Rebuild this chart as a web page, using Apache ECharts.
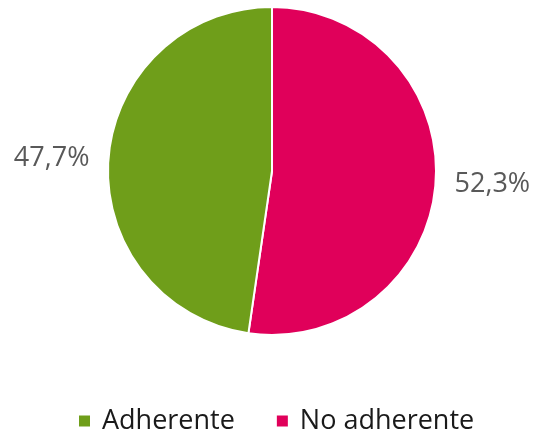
<!DOCTYPE html>
<html><head><meta charset="utf-8">
<script src="https://cdn.jsdelivr.net/npm/echarts@6/dist/echarts.min.js"></script>
<style>html,body{margin:0;padding:0;background:#fff}#c{width:537px;height:433px}</style>
</head><body><div id="c"></div>
<script>
const categories = ["No adherente", "Adherente"];
const values = [52.3, 47.7];
const colors = ["#E0005A", "#6F9E1A"];
const legendOrder = ["Adherente", "No adherente"];

const chart = echarts.init(document.getElementById('c'), null, {renderer: 'canvas'});
chart.setOption({
  animation: false,
  color: colors,
  legend: {
    data: legendOrder,
    top: 402,
    left: 72,
    icon: 'rect',
    itemWidth: 13,
    itemHeight: 13,
    itemGap: 40,
    textStyle: {fontFamily: 'Open Sans', fontSize: 27, lineHeight: 28, color: '#1a1a1a', padding: [0, 0, 0, 6]}
  },
  series: [{
    type: 'pie',
    center: [272, 171],
    radius: [0, 164],
    startAngle: 90,
    clockwise: true,
    data: categories.map((n, i) => ({name: n, value: values[i]})),
    itemStyle: {borderColor: '#fff', borderWidth: 2},
    label: {
      show: true,
      position: 'outside',
      overflow: 'none',
      formatter: p => p.value.toFixed(1).replace('.', ',') + '%',
      fontFamily: 'Open Sans',
      fontSize: 27,
      color: '#595959'
    },
    labelLine: {show: false, length: 14, length2: 0}
  }]
});
</script></body></html>
